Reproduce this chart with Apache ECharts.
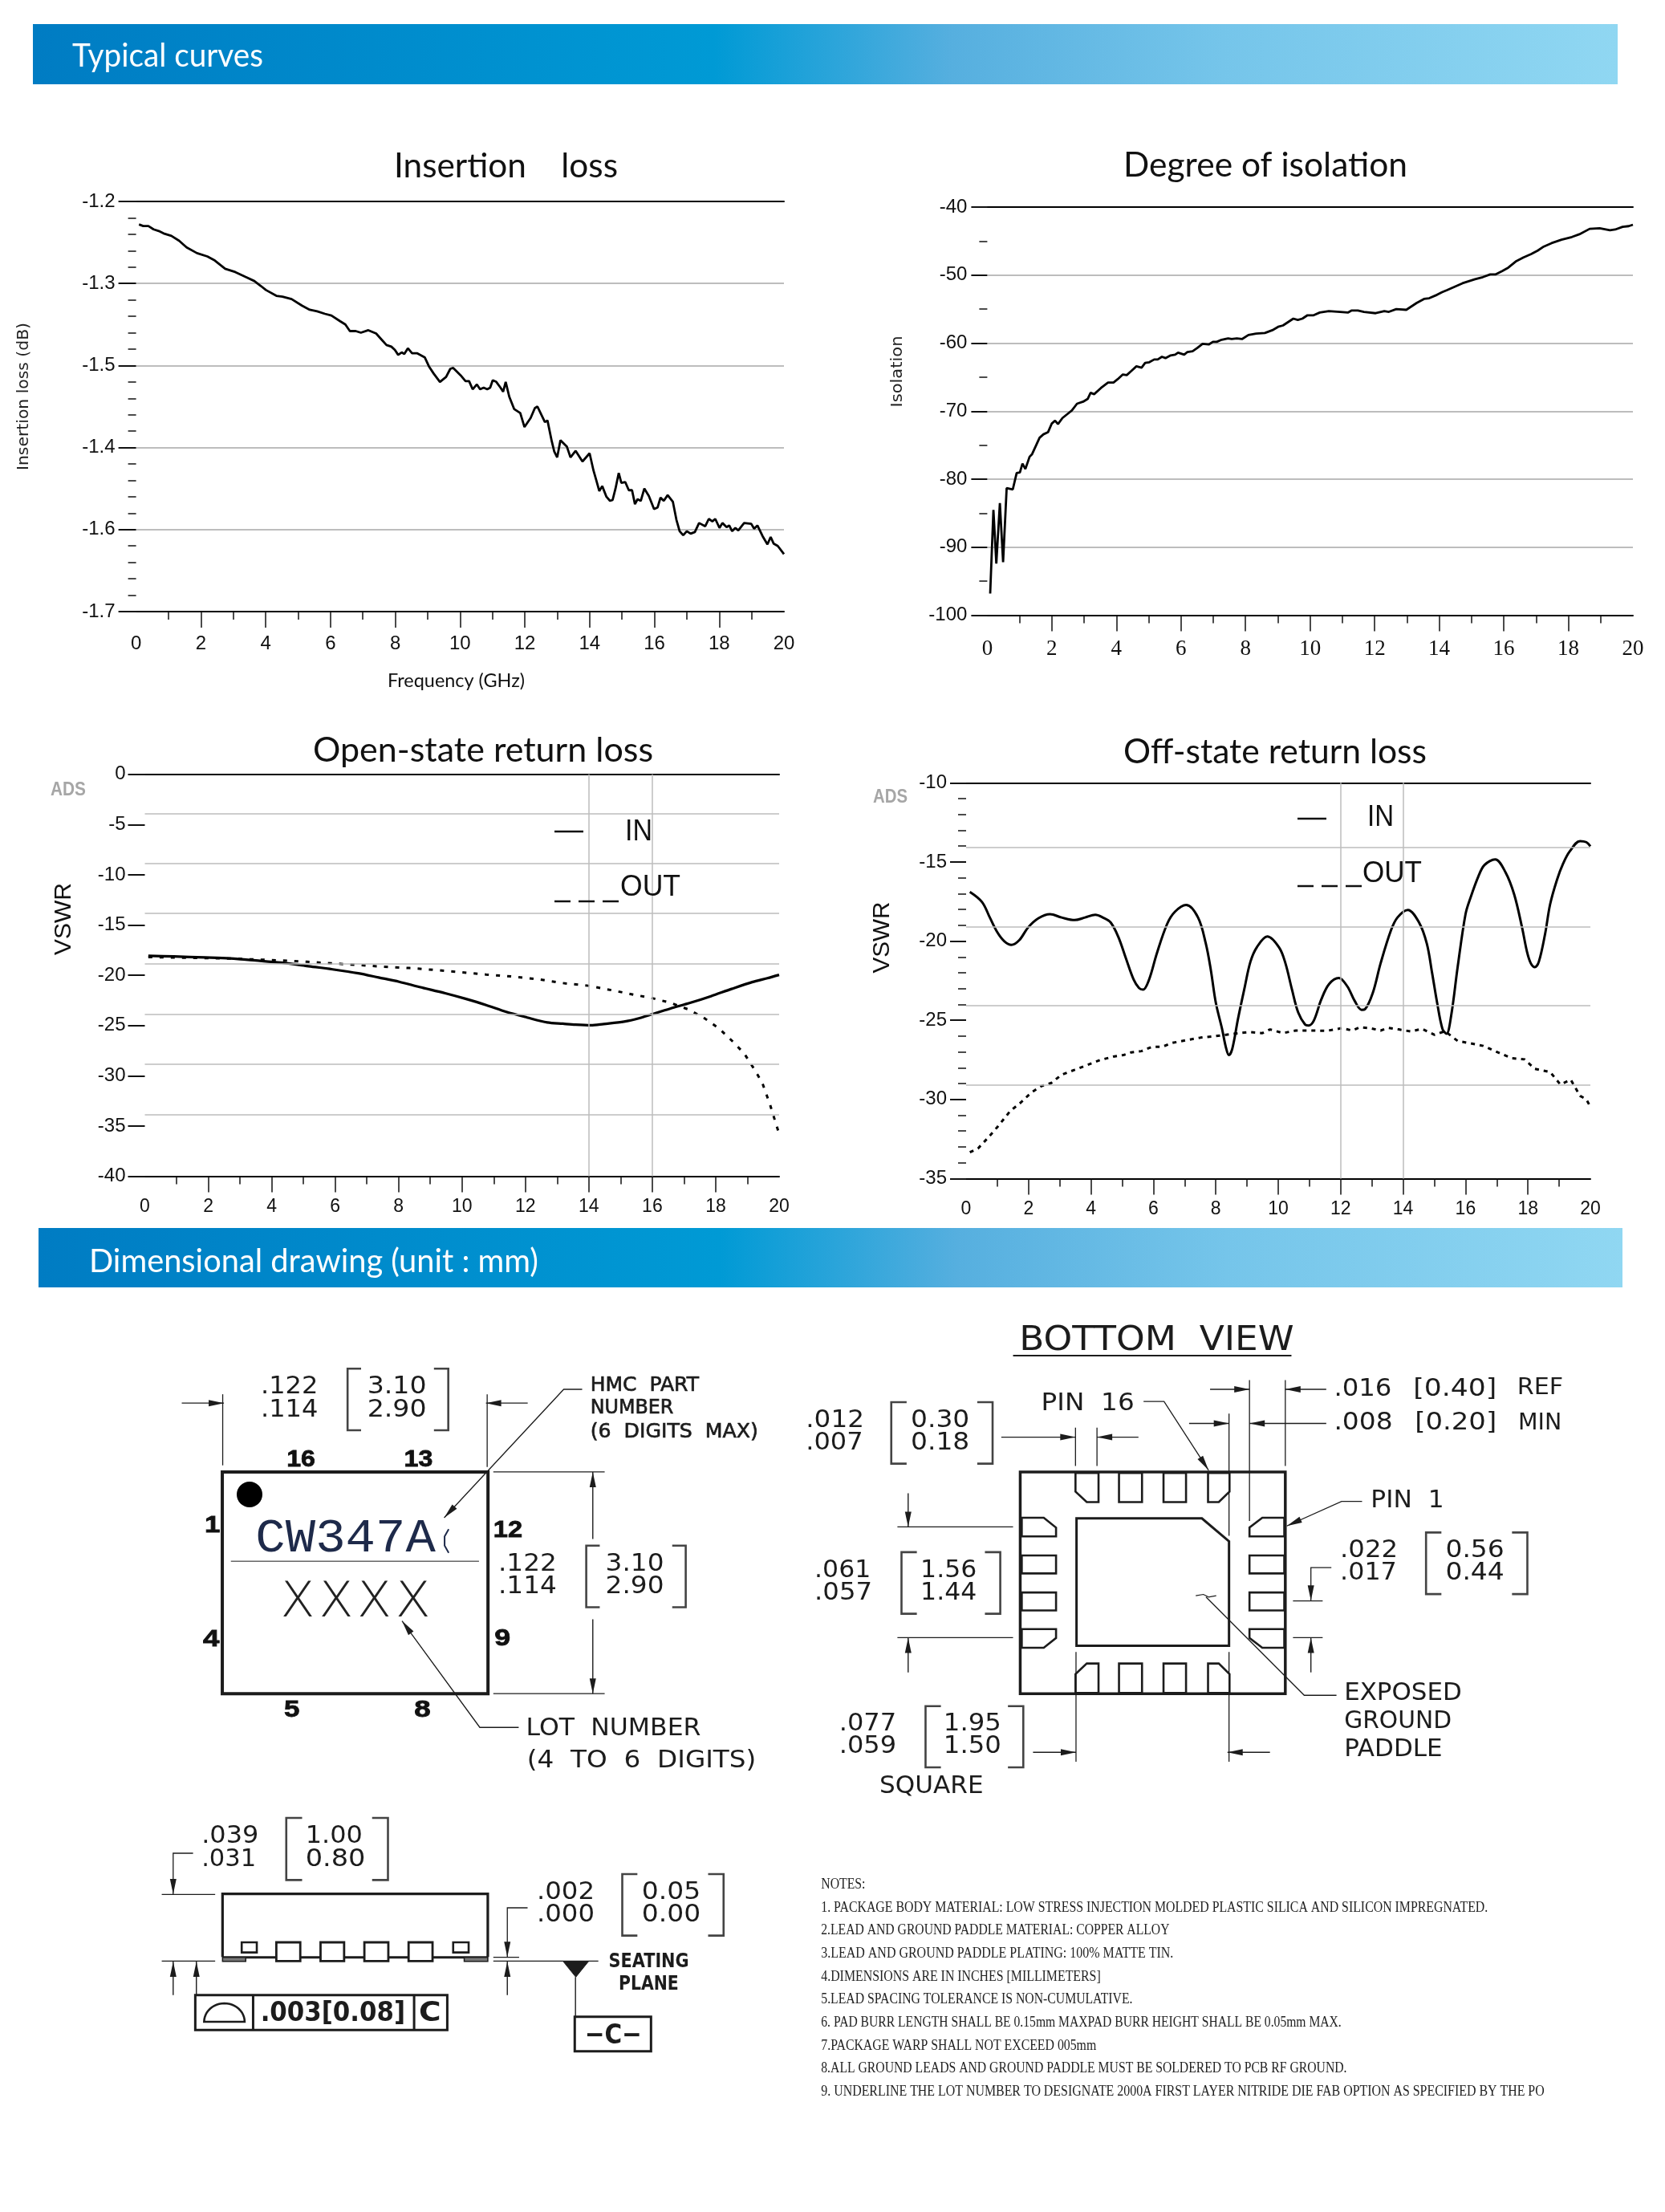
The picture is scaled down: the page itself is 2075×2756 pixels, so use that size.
<!DOCTYPE html>
<html>
<head>
<meta charset="utf-8">
<style>html,body{margin:0;padding:0;background:#fff}#c{width:2075px;height:2756px}</style>
<script src="https://cdn.jsdelivr.net/npm/echarts@6/dist/echarts.min.js"></script>
</head>
<body>
<div id="c"></div>
<script>
// ---------- chart data ----------
const xTickLabels = ['0','2','4','6','8','10','12','14','16','18','20'];
const insertionTickLabels = ['-1.2','-1.3','-1.5','-1.4','-1.6','-1.7'];

const insertionFreq = [.09,.22,.38,.54,.70,.85,1.09,1.33,1.56,1.88,2.20,2.43,2.75,3.06,3.38,3.65,3.85,4.01,4.33,4.52,4.80,5.12,5.36,5.59,5.83,6.03,6.30,6.46,6.60,6.78,6.94,7.17,7.41,7.57,7.73,7.88,7.99,8.09,8.20,8.28,8.39,8.52,8.67,8.91,9.04,9.19,9.38,9.57,9.70,9.79,10.02,10.17,10.28,10.39,10.52,10.62,10.73,10.84,10.93,11.01,11.12,11.25,11.33,11.41,11.52,11.67,11.86,11.99,12.18,12.31,12.39,12.51,12.62,12.70,12.83,12.91,13.00,13.10,13.30,13.41,13.57,13.78,14.00,14.12,14.20,14.30,14.39,14.52,14.63,14.71,14.80,14.90,14.98,15.10,15.21,15.31,15.40,15.48,15.58,15.69,15.83,15.99,16.10,16.19,16.29,16.41,16.57,16.68,16.78,16.89,17.00,17.12,17.25,17.38,17.57,17.68,17.79,17.88,18.01,18.10,18.23,18.31,18.40,18.50,18.59,18.77,18.99,19.08,19.18,19.34,19.49,19.59,19.68,19.81,20.00];
const insertionLoss = [-1.228,-1.230,-1.230,-1.234,-1.236,-1.239,-1.242,-1.248,-1.256,-1.263,-1.267,-1.272,-1.282,-1.286,-1.292,-1.297,-1.303,-1.308,-1.315,-1.316,-1.319,-1.327,-1.332,-1.334,-1.337,-1.339,-1.346,-1.350,-1.358,-1.358,-1.360,-1.357,-1.361,-1.368,-1.375,-1.377,-1.381,-1.387,-1.384,-1.386,-1.379,-1.385,-1.385,-1.390,-1.401,-1.410,-1.420,-1.414,-1.404,-1.403,-1.412,-1.419,-1.419,-1.429,-1.423,-1.429,-1.427,-1.429,-1.427,-1.418,-1.420,-1.427,-1.432,-1.420,-1.438,-1.453,-1.458,-1.475,-1.464,-1.452,-1.450,-1.460,-1.469,-1.467,-1.492,-1.505,-1.512,-1.491,-1.499,-1.512,-1.504,-1.517,-1.507,-1.528,-1.539,-1.553,-1.547,-1.560,-1.565,-1.564,-1.550,-1.531,-1.543,-1.542,-1.552,-1.552,-1.569,-1.563,-1.565,-1.550,-1.559,-1.575,-1.573,-1.561,-1.565,-1.558,-1.566,-1.588,-1.602,-1.607,-1.602,-1.605,-1.603,-1.592,-1.596,-1.587,-1.590,-1.587,-1.598,-1.592,-1.597,-1.595,-1.602,-1.598,-1.601,-1.592,-1.593,-1.599,-1.595,-1.608,-1.618,-1.609,-1.617,-1.620,-1.630];

const isolationFreq = [.09,.19,.28,.39,.49,.60,.79,.91,1.01,1.09,1.18,1.31,1.39,1.62,1.74,1.88,2.00,2.10,2.19,2.33,2.54,2.62,2.78,2.97,3.11,3.20,3.31,3.52,3.74,3.91,4.04,4.20,4.32,4.46,4.62,4.78,4.89,5.02,5.17,5.28,5.41,5.52,5.68,5.82,5.91,6.10,6.20,6.36,6.51,6.67,6.86,6.99,7.11,7.26,7.46,7.57,7.73,7.89,8.09,8.33,8.60,8.83,9.01,9.16,9.32,9.48,9.62,9.76,9.92,10.11,10.30,10.58,10.93,11.17,11.29,11.48,11.67,12.03,12.30,12.44,12.67,12.98,13.30,13.53,13.69,13.93,14.09,14.24,14.48,14.72,15.11,15.35,15.58,15.74,15.95,16.14,16.37,16.61,16.85,17.05,17.24,17.48,17.79,18.11,18.34,18.66,18.97,19.29,19.45,19.68,19.87,20.00];
const isolationDb = [-96.8,-84.5,-92.4,-83.5,-92.2,-81.3,-81.5,-79.1,-79.0,-77.7,-78.5,-76.7,-76.3,-73.9,-73.4,-73.1,-71.8,-71.4,-71.9,-71.0,-70.2,-69.9,-68.9,-68.6,-68.2,-67.3,-67.5,-66.6,-65.8,-65.8,-65.3,-64.6,-64.7,-64.1,-63.4,-63.6,-62.9,-62.8,-62.4,-62.4,-62.0,-62.2,-61.8,-61.7,-61.4,-61.7,-61.3,-61.2,-60.7,-60.1,-60.2,-59.8,-59.8,-59.5,-59.3,-59.4,-59.3,-59.4,-58.8,-58.6,-58.5,-58.1,-57.6,-57.4,-56.9,-56.4,-56.6,-56.4,-55.9,-55.9,-55.5,-55.3,-55.4,-55.5,-55.2,-55.2,-55.4,-55.6,-55.3,-55.4,-55.0,-55.1,-54.1,-53.5,-53.4,-52.9,-52.5,-52.2,-51.7,-51.2,-50.6,-50.3,-49.9,-49.9,-49.4,-48.9,-48.0,-47.4,-46.9,-46.4,-45.8,-45.3,-44.8,-44.4,-44.0,-43.2,-43.1,-43.4,-43.3,-42.9,-42.8,-42.6];

const openInFreq = [.11,.92,1.89,2.69,3.5,4.31,5.11,5.92,6.73,7.37,8.02,8.66,9.47,10.11,10.76,11.4,12.05,12.69,13.18,13.58,14.06,14.47,15.11,15.6,16,16.56,17.21,17.85,18.5,19.15,19.63,20];
const openInDb = [-18.07,-18.13,-18.23,-18.33,-18.53,-18.75,-19.08,-19.41,-19.80,-20.22,-20.65,-21.17,-21.79,-22.34,-22.96,-23.65,-24.2,-24.69,-24.82,-24.92,-24.98,-24.85,-24.62,-24.27,-23.87,-23.32,-22.73,-22.08,-21.36,-20.68,-20.29,-19.96];
const openOutFreq = [.11,.92,1.89,2.69,3.5,4.31,5.11,5.92,6.73,7.53,8.34,9.15,9.95,10.76,11.56,12.37,13.18,13.98,14.79,15.44,16,16.56,17.13,17.61,18.1,18.5,18.9,19.23,19.47,19.71,19.87,20];
const openOutDb = [-18.2,-18.23,-18.3,-18.33,-18.43,-18.53,-18.66,-18.82,-18.98,-19.15,-19.28,-19.47,-19.7,-19.93,-20.12,-20.38,-20.78,-21.04,-21.53,-21.95,-22.28,-22.73,-23.39,-24.2,-25.28,-26.48,-27.79,-29.42,-30.72,-32.84,-34.47,-35.78];
const openGridValues = [-3.88,-8.87,-13.86,-18.88,-23.87,-28.86,-33.85];
const openVerticals = [14,16];

const offInFreq = [.12,.51,.76,1.0,1.22,1.45,1.7,1.99,2.32,2.69,3.06,3.48,3.81,4.14,4.38,4.63,4.88,5.12,5.37,5.54,5.67,5.86,6.11,6.44,6.69,7.05,7.43,7.68,7.84,8.0,8.2,8.32,8.42,8.53,8.71,8.91,9.11,9.32,9.65,10.03,10.23,10.44,10.64,10.86,10.97,11.14,11.38,11.63,11.94,12.21,12.45,12.67,12.78,13.03,13.28,13.61,13.82,14.15,14.51,14.76,14.93,15.09,15.26,15.39,15.54,15.75,16,16.16,16.41,16.61,16.95,17.28,17.56,17.81,17.97,18.09,18.22,18.35,18.55,18.71,18.93,19.13,19.34,19.67,19.87,20];
const offInDb = [-16.89,-17.53,-18.51,-19.44,-20.0,-20.24,-19.95,-19.13,-18.55,-18.3,-18.51,-18.67,-18.51,-18.34,-18.51,-18.82,-19.75,-21.09,-22.44,-22.96,-23.06,-22.44,-20.78,-18.92,-18.15,-17.72,-18.51,-20.16,-21.82,-23.89,-25.54,-26.68,-27.2,-26.78,-24.92,-23.06,-21.3,-20.37,-19.71,-20.41,-21.4,-23.06,-24.51,-25.27,-25.33,-25.02,-23.68,-22.71,-22.33,-22.85,-23.78,-24.34,-24.3,-23.27,-21.4,-19.33,-18.51,-18.03,-18.82,-20.16,-22.02,-23.89,-25.54,-25.85,-24.71,-21.61,-18.3,-17.26,-15.92,-15.19,-14.84,-15.65,-17.06,-19.13,-20.68,-21.4,-21.65,-21.3,-19.54,-17.68,-16.13,-15.09,-14.33,-13.68,-13.75,-14.01];
const offOutFreq = [.12,.38,.68,1.0,1.42,1.75,2.08,2.41,2.73,3.06,3.48,3.89,4.3,4.71,5.04,5.29,5.62,5.95,6.28,6.61,7.02,7.51,8,8.58,9.08,9.49,9.74,10.15,10.56,11.05,11.55,12.04,12.37,12.62,12.95,13.28,13.53,13.86,14.27,14.6,15.01,15.34,15.75,16.08,16.57,16.99,17.48,17.89,18.22,18.71,19.04,19.37,19.67,19.87,20];
const offOutDb = [-33.34,-33.1,-32.47,-31.75,-30.72,-30.2,-29.58,-29.16,-28.96,-28.44,-28.13,-27.82,-27.51,-27.3,-27.2,-27.03,-26.95,-26.68,-26.68,-26.43,-26.27,-26.1,-26.0,-25.85,-25.75,-25.81,-25.58,-25.81,-25.65,-25.65,-25.67,-25.5,-25.65,-25.44,-25.5,-25.65,-25.48,-25.58,-25.71,-25.54,-25.92,-25.69,-26.31,-26.43,-26.62,-26.99,-27.4,-27.47,-28.07,-28.27,-29.06,-28.75,-29.78,-29.99,-30.47];
const offGridValues = [-14.1,-19.1,-24.09,-29.08];
const offVerticals = [12,14];

const notes = [
 'NOTES:',
 '1. PACKAGE BODY MATERIAL: LOW STRESS INJECTION MOLDED PLASTIC SILICA AND SILICON IMPREGNATED.',
 '2.LEAD AND GROUND PADDLE MATERIAL: COPPER ALLOY',
 '3.LEAD AND GROUND PADDLE PLATING: 100% MATTE TIN.',
 '4.DIMENSIONS ARE IN INCHES [MILLIMETERS]',
 '5.LEAD SPACING TOLERANCE IS NON-CUMULATIVE.',
 '6. PAD BURR LENGTH SHALL BE 0.15mm MAXPAD BURR HEIGHT SHALL BE 0.05mm MAX.',
 '7.PACKAGE WARP SHALL NOT EXCEED 005mm',
 '8.ALL GROUND LEADS AND GROUND PADDLE MUST BE SOLDERED TO PCB RF GROUND.',
 '9. UNDERLINE THE LOT NUMBER TO DESIGNATE 2000A FIRST LAYER NITRIDE DIE FAB OPTION AS SPECIFIED BY THE PO'
];

// ---------- chart building ----------
const pairs = (xs, ys) => xs.map((x, i) => [x, ys[i]]);
const GREY = '#bdbdbd';
const grids = [], xAxes = [], yAxes = [], series = [];

function addPanel(cfg) {
  const g = grids.length;
  grids.push({left: cfg.l, top: cfg.t, width: cfg.r - cfg.l, height: cfg.b - cfg.t, containLabel: false});
  const xi = xAxes.length;
  const base = {type: 'value', gridIndex: g, min: 0, max: 20, splitLine: {show: false}};
  xAxes.push(Object.assign({}, base, {
    position: 'bottom', interval: 2,
    axisLine: {show: true, onZero: false, lineStyle: {color: '#000', width: 2}},
    axisTick: {show: true, length: 20, customValues: [2,4,6,8,10,12,14,16,18], lineStyle: {color: '#111', width: 1.5}},
    axisLabel: {show: true, margin: cfg.xMargin, color: '#111', fontFamily: cfg.xFont, fontSize: cfg.xSize,
      formatter: v => xTickLabels[Math.round(v / 2)]}
  }));
  xAxes.push(Object.assign({}, base, {
    position: 'bottom', interval: 1,
    axisLine: {show: false, onZero: false},
    axisTick: {show: true, length: 10, customValues: [1,3,5,7,9,11,13,15,17,19], lineStyle: {color: '#111', width: 1.5}},
    axisLabel: {show: false}
  }));
  xAxes.push(Object.assign({}, base, {
    position: 'top', interval: 2,
    axisLine: {show: true, onZero: false, lineStyle: {color: '#000', width: 2}},
    axisTick: {show: false}, axisLabel: {show: false}
  }));
  yAxes.push({
    type: 'value', gridIndex: g, min: cfg.min, max: cfg.max, interval: cfg.step,
    axisLine: {show: false},
    axisTick: {show: true, length: cfg.tick, lineStyle: {color: '#111', width: 2}},
    minorTick: {show: !!cfg.minor, splitNumber: cfg.minor || 5, length: 10, lineStyle: {color: '#111', width: 1.5}},
    splitLine: {show: !cfg.noSplit, lineStyle: {color: GREY, width: 2}},
    axisLabel: {margin: cfg.yMargin, color: '#111', fontFamily: 'Liberation Sans', fontSize: cfg.ySize, padding: [4, 0, 0, 0], formatter: cfg.yFormat}
  });
  if (cfg.marks) {
    series.push({
      type: 'line', xAxisIndex: xi, yAxisIndex: g, data: [], z: 1, silent: true, symbol: 'none',
      markLine: {
        silent: true, symbol: 'none', animation: false, label: {show: false},
        lineStyle: {type: 'solid', color: GREY, width: 1.5},
        data: cfg.marks.map(v => ({yAxis: v})).concat(cfg.verticals.map(v => ({xAxis: v})))
      }
    });
  }
  cfg.lines.forEach(ln => series.push({
    type: 'line', name: ln.name, xAxisIndex: xi, yAxisIndex: g, data: ln.data, z: 3, symbol: 'none', smooth: ln.smooth || false,
    clip: false, animation: false, lineStyle: {color: '#000', width: ln.width || 3, type: ln.dash || 'solid'}
  }));
}

addPanel({l: 169.6, r: 977, t: 251, b: 762, min: -1.7, max: -1.2, step: 0.1, minor: 5, tick: 22,
  xMargin: 28, xFont: 'Liberation Sans', xSize: 24, yMargin: 26, ySize: 24,
  yFormat: v => insertionTickLabels[Math.round((-1.2 - v) / 0.1)],
  lines: [{name: 'Insertion loss', data: pairs(insertionFreq, insertionLoss), width: 2.8}]});
addPanel({l: 1230.4, r: 2035, t: 258, b: 766.6, min: -100, max: -40, step: 10, minor: 2, tick: 20,
  xMargin: 29, xFont: 'Liberation Serif', xSize: 27, yMargin: 25, ySize: 24,
  lines: [{name: 'Isolation', data: pairs(isolationFreq, isolationDb), width: 2.8}]});
addPanel({l: 180.5, r: 971, t: 964.7, b: 1465.5, min: -40, max: 0, step: 5, tick: 21, noSplit: true,
  xMargin: 27, xFont: 'Liberation Sans', xSize: 23, yMargin: 24, ySize: 24,
  marks: openGridValues, verticals: openVerticals,
  lines: [{name: 'IN', data: pairs(openInFreq, openInDb), width: 3.2, smooth: 0.3},
          {name: 'OUT', data: pairs(openOutFreq, openOutDb), width: 3, dash: [5, 9]}]});
addPanel({l: 1204, r: 1982, t: 975.3, b: 1468.4, min: -35, max: -10, step: 5, minor: 5, tick: 20, noSplit: true,
  xMargin: 27, xFont: 'Liberation Sans', xSize: 23, yMargin: 24, ySize: 24,
  marks: offGridValues, verticals: offVerticals,
  lines: [{name: 'IN', data: pairs(offInFreq, offInDb), width: 3, smooth: 0.35},
          {name: 'OUT', data: pairs(offOutFreq, offOutDb), width: 3, dash: [5, 6]}]});

// ---------- page furniture and package drawings ----------
const els = [];
const mCtx = document.createElement('canvas').getContext('2d');
const id = p => p;
const A = p => [200 + p[0] / 1.96, 1640 + p[1] / 2.45];
const B = p => [980 + p[0] / 1.568, 1640 + p[1] / 2.45];
const C = p => [180 + p[0] / 2.178, 2250 + p[1] / 3];
const D = p => [1000 + p[0] / 1.633, 2320 + p[1] / 3];
const DRAW = '"DejaVu Sans"', INK = '#1c1c1c';

function T(map, str, x0, x1, yc, size, o) {
  o = o || {};
  const font = (o.weight || 'normal') + ' ' + size + 'px ' + (o.family || DRAW);
  mCtx.font = font;
  const a = map([x0, yc]), b = map([x1, yc]);
  const sx = (b[0] - a[0]) / mCtx.measureText(str).width;
  const style = {text: str, font: font, fill: o.fill || INK, textAlign: 'left', textVerticalAlign: 'middle'};
  if (o.stroke) { style.stroke = o.stroke; style.lineWidth = o.lw || 0.6; }
  if (o.blur) { style.shadowBlur = o.blur; style.shadowColor = '#999'; }
  els.push({type: 'text', x: a[0], y: a[1] + (o.dy === undefined ? 2 : o.dy), scaleX: sx, z: 20, silent: true, style: style});
}
function TV(str, cx, cy, len, size, family, fill) {
  const font = 'normal ' + size + 'px ' + family;
  mCtx.font = font;
  els.push({type: 'text', x: cx, y: cy, rotation: Math.PI / 2, scaleX: len / mCtx.measureText(str).width, z: 20, silent: true,
    style: {text: str, font: font, fill: fill || '#111', textAlign: 'center', textVerticalAlign: 'middle'}});
}
function L(map, pts, w, color, dash) {
  els.push({type: 'polyline', z: 15, silent: true, shape: {points: pts.map(map)},
    style: {stroke: color || INK, lineWidth: w || 1.5, fill: null, lineDash: dash || null, lineCap: 'butt', lineJoin: 'miter'}});
}
function P(map, pts, w, fill) {
  els.push({type: 'polygon', z: 15, silent: true, shape: {points: pts.map(map)},
    style: {stroke: INK, lineWidth: w || 2, fill: fill || 'none', lineJoin: 'miter'}});
}
function arrow(map, pts, w) {
  L(map, pts, w || 1.4);
  const t = map(pts[pts.length - 1]), f = map(pts[pts.length - 2]);
  const dx = t[0] - f[0], dy = t[1] - f[1], n = Math.hypot(dx, dy) || 1, ux = dx / n, uy = dy / n;
  const len = 19, hw = 4;
  els.push({type: 'polygon', z: 16, silent: true, shape: {points: [
    t, [t[0] - ux * len - uy * hw, t[1] - uy * len + ux * hw], [t[0] - ux * len + uy * hw, t[1] - uy * len - ux * hw]
  ]}, style: {fill: INK, stroke: null}});
}
function bracket(map, x0, x1, y0, y1) {
  L(map, [[x1, y0], [x0, y0], [x0, y1], [x1, y1]], 2.6, '#444');
}
function bracketR(map, x0, x1, y0, y1) {
  L(map, [[x0, y0], [x1, y0], [x1, y1], [x0, y1]], 2.6, '#444');
}
function rectZ(map, x0, y0, x1, y1, w, fill) {
  P(map, [[x0, y0], [x1, y0], [x1, y1], [x0, y1]], w, fill);
}

// header bands
function band(x0, y0, x1, y1) {
  els.push({type: 'rect', z: 5, silent: true, shape: {x: x0, y: y0, width: x1 - x0, height: y1 - y0},
    style: {fill: new echarts.graphic.LinearGradient(0, 0, 1, 0, [
      {offset: 0, color: '#007cc3'}, {offset: 0.43, color: '#009ad5'}, {offset: 0.58, color: '#56afdf'},
      {offset: 0.75, color: '#75c5ea'}, {offset: 1, color: '#90d7f2'}])}});
}
band(41, 30, 2016, 105);
band(48, 1530, 2022, 1604);
T(id, 'Typical curves', 90, 328, 68, 40, {family: 'Lato', fill: '#fff'});
T(id, 'Dimensional drawing (unit : mm)', 111, 671, 1570, 40, {family: 'Lato', fill: '#fff'});

// chart titles
const titleOpt = {family: 'Lato', fill: '#111'};
T(id, 'Insertion    loss', 491, 770, 205, 42, titleOpt);
T(id, 'Degree of isolation', 1400, 1754, 204, 42, titleOpt);
T(id, 'Open-state return loss', 390, 814, 933, 42, titleOpt);
T(id, 'Off-state return loss', 1400, 1778, 935, 42, titleOpt);

// axis names
TV('Insertion loss (dB)', 30, 494, 184, 20, DRAW, '#222');
TV('Isolation', 1119, 463, 89, 20, DRAW, '#222');
TV('VSWR', 80, 1145, 90, 30, '"Liberation Sans"', '#111');
TV('VSWR', 1100, 1168, 89, 30, '"Liberation Sans"', '#111');
T(id, 'Frequency (GHz)', 483, 654, 846, 24, {family: 'Lato', fill: '#111'});

// ADS marks
const adsOpt = {family: '"Liberation Sans"', weight: 'bold', fill: '#a6a6a6', blur: 2, dy: 1};
T(id, 'ADS', 63, 107, 983, 24, adsOpt);
T(id, 'ADS', 1088, 1131, 992, 24, adsOpt);

// legends
const legOpt = {family: '"Liberation Sans"', fill: '#111'};
L(id, [[691, 1036], [727, 1036]], 2.5, '#111');
T(id, 'IN', 779, 813, 1035, 36, legOpt);
L(id, [[691, 1123], [772, 1123]], 2.5, '#111', [20, 10]);
T(id, 'OUT', 773, 848, 1104, 36, legOpt);
L(id, [[1617, 1020], [1653, 1020]], 2.5, '#111');
T(id, 'IN', 1704, 1737, 1017, 36, legOpt);
L(id, [[1617, 1104], [1697, 1104]], 2.5, '#111', [20, 10]);
T(id, 'OUT', 1698, 1772, 1087, 36, legOpt);

// ---- top view package (A) ----
const bold = {family: '"Liberation Sans"', weight: 'bold', fill: '#111'};
rectZ(A, 151, 475, 800, 1152, 4);
els.push({type: 'circle', z: 16, silent: true, shape: {cx: 311, cy: 1862, r: 16}, style: {fill: '#000'}});
[['16', 308, 378, 432], ['13', 595, 665, 432], ['1', 108, 146, 633], ['12', 813, 884, 648], ['4', 104, 144, 982], ['9', 816, 855, 980], ['5', 302, 340, 1197], ['8', 620, 660, 1197]]
  .forEach(t => T(A, t[0], t[1], t[2], t[3], 30, Object.assign({stroke: '#111', lw: 0.8}, bold)));
T(A, '.122', 245, 385, 212, 30); T(A, '.114', 245, 385, 282, 30);
bracket(A, 457, 490, 160, 348); bracketR(A, 668, 703, 160, 348);
T(A, '3.10', 505, 650, 212, 30); T(A, '2.90', 505, 650, 282, 30);
L(A, [[152, 238], [152, 455]], 1.3); L(A, [[798, 238], [798, 460]], 1.3);
arrow(A, [[52, 265], [155, 265]]); arrow(A, [[897, 265], [795, 265]]);
arrow(A, [[1030, 223], [985, 223], [693, 615]], 1.3);
const semi = {stroke: INK, lw: 0.7};
T(A, 'HMC  PART', 1050, 1315, 208, 25, semi);
T(A, 'NUMBER', 1050, 1253, 275, 25, semi);
T(A, '(6  DIGITS  MAX)', 1050, 1460, 350, 25, semi);
T(A, 'CW347A', 232, 672, 675, 60, {family: '"Liberation Mono"', fill: '#1e2a4a'});
L(A, [[704, 650], [694, 672], [694, 700], [704, 722]], 2, '#1e2a4a');
L(A, [[172, 748], [778, 748]], 1.6, '#666');
[[293, 377], [387, 471], [480, 564], [574, 660]].forEach(r =>
  T(A, 'X', r[0], r[1], 875, 60, {weight: '200', fill: '#222', dy: 1}));
T(A, '.122', 825, 968, 752, 30); T(A, '.114', 825, 968, 822, 30);
bracket(A, 1040, 1073, 700, 888); bracketR(A, 1250, 1283, 700, 888);
T(A, '3.10', 1087, 1230, 752, 30); T(A, '2.90', 1087, 1230, 822, 30);
L(A, [[813, 475], [1085, 475]], 1.3); L(A, [[813, 1152], [1085, 1152]], 1.3);
arrow(A, [[1056, 680], [1056, 475]]); arrow(A, [[1056, 925], [1056, 1152]]);
arrow(A, [[875, 1255], [780, 1255], [590, 930]], 1.3);
T(A, 'LOT  NUMBER', 893, 1320, 1255, 30);
T(A, '(4  TO  6  DIGITS)', 895, 1455, 1352, 30);

// ---- bottom view (B) ----
T(B, 'BOTTOM  VIEW', 455, 992, 72, 42);
L(B, [[443, 120], [987, 120]], 2);
rectZ(B, 457, 475, 975, 1152, 3.5);
const pad = 2.6;
P(B, [[565, 478], [565, 535], [587, 567], [610, 567], [610, 478]], pad);
rectZ(B, 650, 478, 695, 567, pad); rectZ(B, 737, 478, 781, 567, pad);
P(B, [[824, 478], [824, 567], [845, 567], [866, 535], [866, 478]], pad);
P(B, [[565, 1150], [565, 1092], [587, 1060], [610, 1060], [610, 1150]], pad);
rectZ(B, 650, 1060, 695, 1150, pad); rectZ(B, 737, 1060, 781, 1150, pad);
P(B, [[824, 1150], [824, 1060], [845, 1060], [866, 1092], [866, 1150]], pad);
P(B, [[460, 615], [503, 615], [527, 645], [527, 672], [460, 672]], pad);
rectZ(B, 460, 730, 527, 785, pad); rectZ(B, 460, 843, 527, 898, pad);
P(B, [[460, 955], [527, 955], [527, 982], [503, 1012], [460, 1012]], pad);
P(B, [[973, 615], [930, 615], [905, 645], [905, 672], [973, 672]], pad);
rectZ(B, 905, 730, 973, 785, pad); rectZ(B, 905, 843, 973, 898, pad);
P(B, [[973, 955], [905, 955], [905, 982], [930, 1012], [973, 1012]], pad);
P(B, [[567, 617], [812, 617], [865, 687], [865, 1006], [567, 1006]], 3);
L(B, [[565, 340], [565, 457]], 1.3); L(B, [[607, 340], [607, 457]], 1.3);
arrow(B, [[420, 369], [565, 369]]); arrow(B, [[688, 369], [607, 369]]);
L(B, [[905, 195], [905, 625]], 1.3); L(B, [[975, 195], [975, 457]], 1.3);
arrow(B, [[828, 223], [905, 223]]); arrow(B, [[1055, 223], [975, 223]]);
L(B, [[865, 297], [865, 670]], 1.3);
arrow(B, [[787, 327], [865, 327]]); arrow(B, [[1055, 327], [905, 327]]);
T(B, 'PIN  16', 498, 680, 262, 30);
arrow(B, [[698, 260], [738, 260], [825, 470]], 1.3);
T(B, 'PIN  1', 1142, 1285, 558, 30);
arrow(B, [[1125, 565], [1085, 565], [978, 640]], 1.3);
L(B, [[217, 643], [443, 643]], 1.3); arrow(B, [[238, 540], [238, 643]]);
L(B, [[217, 981], [443, 981]], 1.3); arrow(B, [[238, 1087], [238, 981]]);
arrow(B, [[1065, 767], [1025, 767], [1025, 868]], 1.3);
L(B, [[990, 869], [1048, 869]], 1.3); L(B, [[990, 981], [1048, 981]], 1.3);
arrow(B, [[1025, 1087], [1025, 981]]);
L(B, [[566, 1025], [566, 1360]], 1.3); L(B, [[865, 1025], [865, 1360]], 1.3);
arrow(B, [[482, 1331], [566, 1331]]); arrow(B, [[945, 1331], [862, 1331]]);
L(B, [[800, 853], [815, 849], [825, 857], [840, 853]], 1.2);
L(B, [[820, 857], [1012, 1157], [1075, 1157]], 1.3);
T(B, '.016', 1070, 1183, 218, 30); T(B, '[0.40]', 1225, 1388, 218, 30); T(B, 'REF', 1428, 1518, 215, 28);
T(B, '.008', 1070, 1185, 322, 30); T(B, '[0.20]', 1228, 1388, 322, 30); T(B, 'MIN', 1430, 1515, 322, 28);
T(B, '.012', 38, 152, 315, 30); T(B, '.007', 38, 150, 383, 30);
bracket(B, 205, 235, 262, 450); bracketR(B, 373, 403, 262, 450);
T(B, '0.30', 243, 358, 315, 30); T(B, '0.18', 243, 358, 383, 30);
T(B, '.061', 55, 165, 772, 30); T(B, '.057', 55, 168, 840, 30);
bracket(B, 225, 255, 720, 908); bracketR(B, 388, 418, 720, 908);
T(B, '1.56', 262, 372, 772, 30); T(B, '1.44', 262, 372, 840, 30);
T(B, '.022', 1082, 1195, 712, 30); T(B, '.017', 1082, 1193, 780, 30);
bracket(B, 1250, 1280, 660, 848); bracketR(B, 1418, 1448, 660, 848);
T(B, '0.56', 1288, 1403, 712, 30); T(B, '0.44', 1288, 1403, 780, 30);
T(B, '.077', 103, 215, 1240, 30); T(B, '.059', 103, 215, 1308, 30);
bracket(B, 272, 302, 1190, 1377); bracketR(B, 433, 463, 1190, 1377);
T(B, '1.95', 307, 420, 1240, 30); T(B, '1.50', 307, 420, 1308, 30);
T(B, 'SQUARE', 182, 385, 1432, 30);
T(B, 'EXPOSED', 1090, 1320, 1147, 30);
T(B, 'GROUND', 1090, 1300, 1232, 30);
T(B, 'PADDLE', 1090, 1282, 1318, 30);

// ---- side view (C) ----
L(C, [[212, 565], [212, 329], [932, 329], [932, 565]], 3.2);
L(C, [[212, 566], [932, 566]], 3);
rectZ(C, 264, 510, 305, 548, 2.6); rectZ(C, 838, 510, 880, 548, 2.6);
[[358, 423], [478, 542], [597, 662], [717, 782]].forEach(r => rectZ(C, r[0], 510, r[1], 580, 2.8, '#fff'));
rectZ(C, 212, 566, 275, 581, 1.5, '#777'); rectZ(C, 868, 566, 932, 581, 1.5, '#777');
L(C, [[47, 331], [192, 331]], 1.3);
arrow(C, [[132, 177], [78, 177], [78, 330]], 1.3);
L(C, [[47, 580], [192, 580]], 1.3);
arrow(C, [[78, 707], [78, 582]]); arrow(C, [[141, 707], [141, 582]]);
T(C, '.039', 155, 310, 110, 30); T(C, '.031', 155, 303, 195, 30);
bracket(C, 385, 428, 45, 277); bracketR(C, 618, 661, 45, 277);
T(C, '1.00', 437, 592, 110, 30); T(C, '0.80', 437, 600, 195, 30);
T(C, '.002', 1065, 1222, 318, 30); T(C, '.000', 1065, 1222, 402, 30);
bracket(C, 1297, 1338, 255, 485); bracketR(C, 1530, 1572, 255, 485);
T(C, '0.05', 1350, 1510, 318, 30); T(C, '0.00', 1350, 1510, 402, 30);
arrow(C, [[1040, 381], [985, 381], [985, 565]], 1.3);
arrow(C, [[985, 707], [985, 582]]);
L(C, [[947, 566], [1017, 566]], 1.3); L(C, [[947, 580], [1232, 580]], 1.3);
P(C, [[1137, 582], [1205, 582], [1171, 640]], 1, INK);
L(C, [[1170, 640], [1170, 790]], 1.4);
T(C, 'SEATING', 1260, 1478, 578, 24, {weight: 'bold'});
T(C, 'PLANE', 1287, 1450, 662, 24, {weight: 'bold'});
rectZ(C, 138, 707, 822, 838, 3);
L(C, [[295, 707], [295, 838]], 3); L(C, [[732, 707], [732, 838]], 3);
const dome = [];
for (let a = 0; a <= 24; a++) { const t = Math.PI * a / 24; dome.push([217 - 55 * Math.cos(t), 807 - 69 * Math.sin(t)]); }
P(C, dome, 2.6);
T(C, '.003[0.08]', 315, 708, 772, 34, {weight: 'bold'});
T(C, 'C', 745, 805, 772, 34, {weight: 'bold'});
rectZ(C, 1168, 788, 1375, 917, 3);
T(C, '\u2212C\u2212', 1195, 1350, 855, 34, {weight: 'bold'});

// ---- notes (D) ----
const noteRows = [[128, 82], [1395, 168], [747, 254], [755, 340], [607, 426], [672, 512], [1097, 598], [598, 684], [1108, 770], [1510, 855]];
notes.forEach((s, i) => T(D, s, 38, noteRows[i][0], noteRows[i][1], 18, {family: '"Liberation Serif"', fill: '#222', dy: 1}));

// ---------- render ----------
const chart = echarts.init(document.getElementById('c'), null, {renderer: 'canvas', width: 2075, height: 2756});
chart.setOption({
  animation: false,
  backgroundColor: '#fff',
  tooltip: {show: false},
  grid: grids, xAxis: xAxes, yAxis: yAxes, series: series,
  graphic: {elements: els}
});
</script>
</body>
</html>
